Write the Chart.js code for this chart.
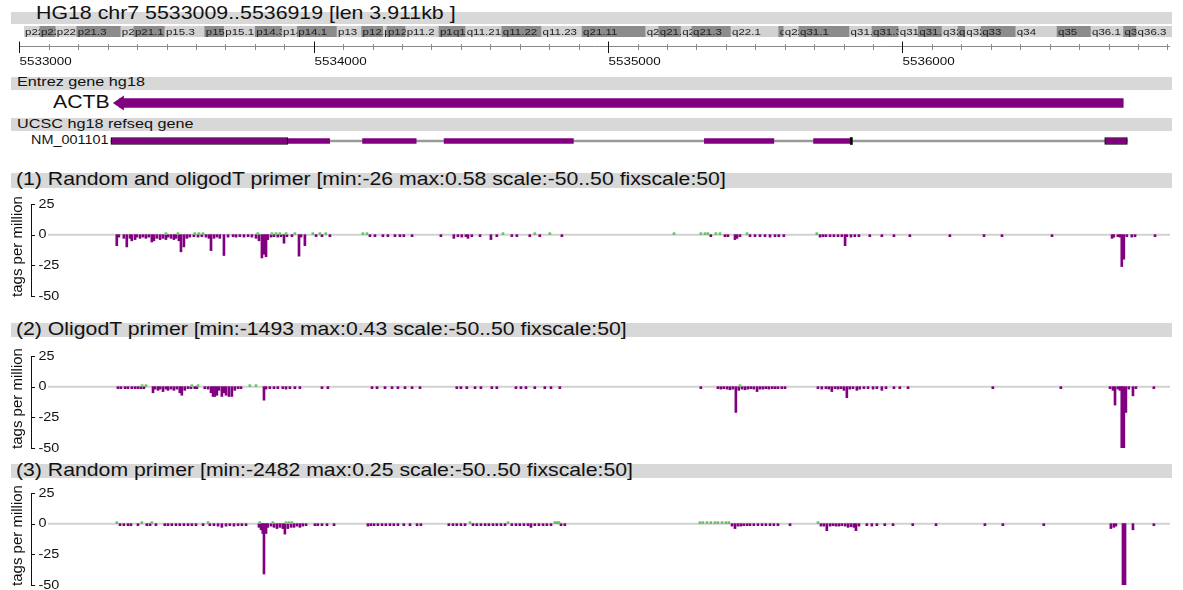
<!DOCTYPE html>
<html>
<head>
<meta charset="utf-8">
<script src="https://cdn.jsdelivr.net/npm/chart.js@4.4.1/dist/chart.umd.min.js"></script>
<style>
  body { margin: 0; background: #fff; }
  #page { position: relative; width: 1183px; height: 590px; overflow: hidden;
          font-family: "Liberation Sans", Arial, sans-serif; color: #111; }
  .band { position: absolute; left: 11px; width: 1161px; background: #d8d8d8; }
  .txt { position: absolute; white-space: nowrap; line-height: 1;
         transform-origin: 0 0; transform: scaleX(1.2); }
  canvas { position: absolute; left: 0; }
</style>
</head>
<body>
<div id="page">
  <div class="band" style="top:12px;height:11.5px"></div>
  <div class="txt" style="left:36px;top:4.5px;font-size:17.8px">HG18 chr7 5533009..5536919 [len 3.911kb ]</div>
  <canvas id="cyto" width="1183" height="11" style="top:26px"></canvas>
  <canvas id="ruler" width="1183" height="30" style="top:38px"></canvas>

  <div class="band" style="top:77px;height:12.5px"></div>
  <div class="txt" style="left:17px;top:75.3px;font-size:13.5px">Entrez gene hg18</div>
  <div class="txt" style="left:53px;top:94px;font-size:17.7px">ACTB</div>
  <canvas id="entrez" width="1183" height="20" style="top:93px"></canvas>

  <div class="band" style="top:118px;height:13px"></div>
  <div class="txt" style="left:17px;top:117px;font-size:13.5px">UCSC hg18 refseq gene</div>
  <div class="txt" style="right:1075px;top:134px;font-size:12px;transform-origin:100% 0">NM_001101</div>
  <canvas id="refseq" width="1183" height="20" style="top:131px"></canvas>

  <div class="band" style="top:172.5px;height:15px"></div>
  <div class="txt" style="left:16px;top:171px;font-size:17.7px">(1) Random and oligodT primer [min:-26 max:0.58 scale:-50..50 fixscale:50]</div>
  <canvas id="track1" width="1183" height="107" style="top:194px"></canvas>

  <div class="band" style="top:323px;height:14px"></div>
  <div class="txt" style="left:16px;top:321px;font-size:17.7px">(2) OligodT primer [min:-1493 max:0.43 scale:-50..50 fixscale:50]</div>
  <canvas id="track2" width="1183" height="107" style="top:346px"></canvas>

  <div class="band" style="top:463.5px;height:14px"></div>
  <div class="txt" style="left:16px;top:461.7px;font-size:17.7px">(3) Random primer [min:-2482 max:0.25 scale:-50..50 fixscale:50]</div>
  <canvas id="track3" width="1183" height="107" style="top:483px"></canvas>
</div>
<script>
// region on chr7 (bp)
const regionStart = 5533009;
const regionEnd = 5536919;

// chr7 ideogram, band edges in Mb
const cytoNames = ["p22.3", "p22.2", "p22.1", "p21.3", "p21.2", "p21.1", "p15.3", "p15.2", "p15.1",
  "p14.3", "p14.2", "p14.1", "p13", "p12.3", "p12.2", "p12.1", "p11.2", "p11.1", "q11.1",
  "q11.21", "q11.22", "q11.23", "q21.11", "q21.12", "q21.13", "q21.2", "q21.3", "q22.1",
  "q22.2", "q22.3", "q31.1", "q31.2", "q31.31", "q31.32", "q31.33", "q32.1", "q32.2",
  "q32.3", "q33", "q34", "q35", "q36.1", "q36.2", "q36.3"];
const cytoEdges = [0, 2.2, 4.4, 7.3, 13.4, 15.2, 19.5, 25.0, 27.7, 32.0, 35.7, 37.8, 43.3, 46.7,
  49.7, 50.2, 52.8, 57.4, 59.2, 61.1, 66.1, 71.6, 77.2, 86.0, 87.8, 90.9, 92.4, 97.8, 104.4,
  105.1, 107.2, 114.2, 117.3, 121.0, 123.7, 127.0, 129.2, 130.2, 132.4, 137.2, 142.9, 147.6,
  152.1, 153.9, 158.8];
const cytoDark = [0, 1, 0, 1, 0, 1, 0, 1, 0, 1, 0, 1, 0, 1, 0, 1, 0, 1, 1,
  0, 1, 0, 1, 0, 1, 0, 1, 0, 1, 0, 1, 0, 1, 0, 1, 0, 1, 0, 1, 0, 1, 0, 1, 0];

// ruler
const rulerFirst = 5533000;
const rulerStep = 100;
const rulerLabelStep = 1000;

// Entrez gene ACTB (minus strand)
const actbStart = 5533311;
const actbEnd = 5536750;

// refseq NM_001101
const nmSpan = [5533311, 5536764];
const nmCds = [[5533912, 5534054], [5534166, 5534348], [5534443, 5534882], [5535327, 5535563], [5535698, 5535823]];
const nmUtr = [[5533311, 5533912], [5536687, 5536764]];
const nmUtrSmall = [[5535823, 5535827]];

// y axis ticks of the signal tracks
const yTicks = [25, 0, -25, -50];

// (1) Random and oligodT primer
const t1Pos = [5533331, 5533338, 5533355, 5533365, 5533376, 5533382, 5533393, 5533399, 5533410, 5533420,
  5533430, 5533440, 5533450, 5533457, 5533467, 5533478, 5533488, 5533498, 5533505, 5533515, 5533525,
  5533532, 5533542, 5533549, 5533559, 5533569, 5533579, 5533593, 5533607, 5533620, 5533634, 5533644,
  5533651, 5533661, 5533671, 5533681, 5533695, 5533709, 5533726, 5533736, 5533749, 5533763, 5533777,
  5533790, 5533804, 5533814, 5533824, 5533831, 5533838, 5533844, 5533855, 5533865, 5533878, 5533889,
  5533899, 5533909, 5533926, 5533950, 5533957, 5533970, 5534008, 5534028, 5534055, 5534191, 5534208,
  5534235, 5534252, 5534276, 5534293, 5534306, 5534334, 5534432, 5534476, 5534490, 5534503, 5534517,
  5534524, 5534537, 5534565, 5534602, 5534622, 5534673, 5534690, 5534734, 5534768, 5534843, 5535349,
  5535397, 5535407, 5535431, 5535438, 5535448, 5535482, 5535499, 5535516, 5535533, 5535550, 5535567,
  5535580, 5535597, 5535720, 5535730, 5535740, 5535754, 5535767, 5535781, 5535794, 5535805, 5535811,
  5535825, 5535838, 5535852, 5535889, 5535930, 5535971, 5536025, 5536161, 5536277, 5536338, 5536508,
  5536712, 5536718, 5536732, 5536739, 5536745, 5536752, 5536762, 5536779, 5536790, 5536858];
const t1Val = [-9, -2, -3, -10, -3, -5, -4, -2, -3, -2,
  -3, -2, -6, -5, -3, -4, -3, -4, -2, -3, -4,
  -3, -5, -14, -10, -3, -2, -1, -2, -1, -2, -3,
  -13, -3, -2, -3, -17, -2, -1, -2, -1, -2, -1,
  -2, -3, -5, -19, -16, -18, -4, -2, -1, -2, -1,
  -7, -1, -1, -17.5, -2, -9, -1, -1, -1, -1, -1,
  -1, -1, -1, -1, -1, -1, -1, -3, -1, -2, -1,
  -3, -1, -1.5, -4, -1, -1, -1, -1, -1, -1.5, -1,
  -1.5, -1.5, -4, -3, -1, -1, -1, -1, -1, -2, -1,
  -1, -1, -2, -1.5, -1, -1.5, -1, -1, -1.5, -9, -1,
  -2, -1.5, -1, -1, -1, -1, -1, -1.5, -1, -1, -1,
  -3, -2, -1, -2, -26, -20, -1, -2, -1.5, -1];
const t1PosPlus = [5533498, 5533539, 5533596, 5533610, 5533624, 5533810, 5533858, 5533872, 5533885,
  5533906, 5533936, 5533997, 5534021, 5534041, 5534167, 5534181, 5534643, 5534751, 5534802, 5535224,
  5535315, 5535329, 5535339, 5535366, 5535380, 5535472, 5535709];
const t1ValPlus = [0.4, 0.5, 0.5, 0.4, 0.5, 0.5, 0.58, 0.4, 0.5,
  0.4, 0.4, 0.4, 0.4, 0.4, 0.4, 0.5, 0.4, 0.4, 0.5, 0.4,
  0.4, 0.5, 0.4, 0.4, 0.4, 0.4, 0.5];

// (2) OligodT primer
const t2Pos = [5533335, 5533345, 5533359, 5533369, 5533382, 5533393, 5533403, 5533413, 5533423, 5533454,
  5533461, 5533471, 5533478, 5533488, 5533498, 5533505, 5533515, 5533525, 5533535, 5533545, 5533552,
  5533562, 5533573, 5533583, 5533596, 5533603, 5533630, 5533641, 5533651, 5533658, 5533664, 5533671,
  5533678, 5533688, 5533695, 5533702, 5533712, 5533722, 5533732, 5533743, 5533753, 5533831, 5533838,
  5533851, 5533865, 5533878, 5533895, 5533906, 5533919, 5533936, 5533953, 5534028, 5534048, 5534198,
  5534215, 5534242, 5534266, 5534286, 5534310, 5534334, 5534361, 5534486, 5534500, 5534520, 5534548,
  5534568, 5534605, 5534622, 5534687, 5534704, 5534721, 5534751, 5534785, 5534806, 5534836, 5535315,
  5535373, 5535383, 5535393, 5535404, 5535414, 5535424, 5535434, 5535444, 5535455, 5535465, 5535475,
  5535485, 5535495, 5535506, 5535516, 5535526, 5535536, 5535546, 5535557, 5535567, 5535577, 5535590,
  5535601, 5535713, 5535726, 5535740, 5535750, 5535760, 5535771, 5535781, 5535791, 5535801, 5535811,
  5535821, 5535832, 5535845, 5535855, 5535869, 5535883, 5535900, 5535913, 5535930, 5535944, 5535971,
  5535991, 5536019, 5536307, 5536538, 5536705, 5536715, 5536722, 5536732, 5536739, 5536745, 5536752,
  5536759, 5536769, 5536783, 5536793, 5536854];
const t2Val = [-1.5, -1, -1.5, -1, -1, -1.5, -1, -1, -1.5, -5,
  -2, -3, -2, -4, -2, -3, -2, -3, -2, -5, -7,
  -3, -1, -1.5, -1, -1, -1, -2, -5, -8, -8, -7,
  -3, -8, -5, -7, -8, -8, -3, -1, -1, -11, -2,
  -1.5, -1, -1, -1.5, -2, -1.5, -1, -1.5, -1, -1, -1,
  -1, -1, -1, -1, -1, -1, -1, -1, -1.5, -1, -1,
  -1, -1, -1, -1, -1, -1, -1, -1, -1, -1, -1,
  -1.5, -2, -1.5, -2, -2.5, -2, -21, -3, -2, -2.5, -2,
  -1.5, -2, -4, -2, -2, -1.5, -2, -1.5, -1, -1.5, -1,
  -1, -1.5, -2, -1.5, -2, -4, -1.5, -2, -1.5, -3, -9,
  -2, -1.5, -3, -2, -1.5, -1, -2, -1, -3, -1, -1.5,
  -1, -1, -1, -1, -1.5, -3, -15, -2, -3, -1493, -180,
  -21, -2, -7.5, -1, -1];
const t2PosPlus = [5533417, 5533430, 5533586, 5533607, 5533783, 5533804, 5535448];
const t2ValPlus = [0.4, 0.43, 0.3, 0.3, 0.3, 0.3, 0.4];

// (3) Random primer
const t3Pos = [5533342, 5533355, 5533369, 5533379, 5533403, 5533433, 5533444, 5533464, 5533494, 5533505,
  5533518, 5533532, 5533545, 5533559, 5533573, 5533586, 5533600, 5533624, 5533647, 5533661, 5533675,
  5533688, 5533702, 5533715, 5533729, 5533743, 5533756, 5533770, 5533814, 5533821, 5533827, 5533831,
  5533838, 5533844, 5533855, 5533865, 5533875, 5533885, 5533895, 5533902, 5533912, 5533923, 5533933,
  5533943, 5533953, 5533963, 5533974, 5534004, 5534014, 5534028, 5534045, 5534069, 5534184, 5534194,
  5534205, 5534218, 5534232, 5534245, 5534259, 5534272, 5534286, 5534306, 5534327, 5534351, 5534364,
  5534459, 5534473, 5534486, 5534500, 5534514, 5534541, 5534554, 5534568, 5534582, 5534595, 5534609,
  5534622, 5534636, 5534650, 5534673, 5534687, 5534700, 5534714, 5534728, 5534738, 5534751, 5534765,
  5534779, 5534792, 5534806, 5534840, 5534853, 5535421, 5535431, 5535441, 5535451, 5535461, 5535472,
  5535482, 5535495, 5535509, 5535523, 5535536, 5535550, 5535563, 5535577, 5535618, 5535723, 5535733,
  5535743, 5535754, 5535764, 5535774, 5535784, 5535794, 5535805, 5535815, 5535825, 5535835, 5535842,
  5535852, 5535879, 5535896, 5535913, 5535940, 5535968, 5536035, 5536114, 5536280, 5536341, 5536480,
  5536708, 5536718, 5536725, 5536749, 5536756, 5536783, 5536854];
const t3Val = [-1, -1, -1, -1, -1, -1, -1, -1, -1, -1,
  -1, -1, -1, -1, -1, -1, -1, -1, -1, -1, -2,
  -3, -2, -1, -2, -1, -1, -1, -3, -5, -8, -41,
  -8, -3, -2, -3, -4, -3, -4, -8.5, -4, -3, -3,
  -2, -3, -2, -1, -1, -1, -1, -1, -1, -2, -1,
  -1, -1, -1, -1, -1, -1, -1, -1, -1, -1, -1,
  -1, -1.5, -1, -1.5, -1, -1, -1.5, -1, -1, -1, -1,
  -1.5, -1, -1, -1, -1, -1.5, -1, -1.5, -3, -1, -1.5,
  -1, -1, -1, -1, -1, -2, -4, -2, -2, -1.5, -1,
  -1.5, -1, -1.5, -1, -1, -1, -1, -1, -1, -2, -2,
  -5.7, -2, -1.5, -2, -2, -1.5, -2, -3, -2.5, -3, -5.7,
  -2, -1, -2, -1, -1, -1, -1, -1, -1, -1, -1,
  -4, -3, -2, -2482, -300, -5, -1];
const t3PosPlus = [5533331, 5533416, 5533450, 5533641, 5533817, 5533861, 5533906, 5533916, 5533926,
  5534531, 5534660, 5534819, 5534826, 5534833, 5535312, 5535322, 5535336, 5535349, 5535363, 5535373,
  5535387, 5535400, 5535410, 5535713];
const t3ValPlus = [0.25, 0.25, 0.25, 0.25, 0.25, 0.25, 0.25, 0.25, 0.25,
  0.25, 0.25, 0.25, 0.25, 0.25, 0.25, 0.25, 0.25, 0.25, 0.25, 0.25,
  0.25, 0.25, 0.25, 0.25];

const FONT = '"Liberation Sans", Arial, sans-serif';
const STRETCH = 1.2;

function stretchText(ctx, text, x, y) {
  ctx.save();
  ctx.translate(x, y);
  ctx.scale(STRETCH, 1);
  ctx.fillText(text, 0, 0);
  ctx.restore();
}

function genomeScale() {
  return { type: "linear", min: regionStart, max: regionEnd, display: false, offset: false };
}

const baseOptions = {
  responsive: false,
  animation: false,
  events: [],
  plugins: { legend: { display: false }, tooltip: { enabled: false } },
};

// ideogram
const cytoLabels = {
  id: "cytoLabels",
  afterDatasetsDraw(chart) {
    const ctx = chart.ctx;
    const meta = chart.getDatasetMeta(0);
    ctx.save();
    ctx.font = "9.6px " + FONT;
    ctx.textBaseline = "middle";
    ctx.fillStyle = "#222";
    meta.data.forEach((bar, i) => {
      const p = bar.getProps(["x", "base", "y", "height"], true);
      const left = Math.min(p.x, p.base);
      const right = Math.max(p.x, p.base);
      ctx.save();
      ctx.beginPath();
      ctx.rect(left, p.y - p.height / 2, right - left, p.height);
      ctx.clip();
      stretchText(ctx, cytoNames[i], left + 1, p.y + 0.5);
      ctx.restore();
    });
    ctx.restore();
  },
};

new Chart(document.getElementById("cyto"), {
  type: "bar",
  data: {
    labels: ["chr7"],
    datasets: [{
      data: cytoNames.map((n, i) => ({ x: [cytoEdges[i], cytoEdges[i + 1]], y: "chr7" })),
      backgroundColor: cytoDark.map((d) => (d ? "#8c8c8c" : "#d2d2d2")),
      barThickness: 11,
      grouped: false,
    }],
  },
  options: {
    ...baseOptions,
    indexAxis: "y",
    layout: { padding: { left: 24, right: 11, top: 0, bottom: 0 } },
    scales: {
      x: { type: "linear", min: 0, max: cytoEdges[cytoEdges.length - 1], display: false, offset: false },
      y: { type: "category", display: false },
    },
  },
  plugins: [cytoLabels],
});

// ruler
const rulerDraw = {
  id: "rulerDraw",
  afterDraw(chart) {
    const { ctx, scales: { x } } = chart;
    const lineY = 8.5;
    ctx.save();
    ctx.lineWidth = 1;
    ctx.strokeStyle = "#8a8a8a";
    ctx.beginPath();
    ctx.moveTo(x.getPixelForValue(rulerFirst), lineY);
    ctx.lineTo(x.getPixelForValue(regionEnd) - 3, lineY);
    ctx.stroke();
    ctx.font = "11.2px " + FONT;
    ctx.fillStyle = "#111";
    ctx.textBaseline = "alphabetic";
    for (let p = rulerFirst; p <= regionEnd; p += rulerStep) {
      const px = Math.round(x.getPixelForValue(p)) + 0.5;
      const major = p % rulerLabelStep === 0;
      ctx.strokeStyle = major ? "#111" : "#8a8a8a";
      ctx.beginPath();
      ctx.moveTo(px, major ? lineY - 5 : lineY - 2.5);
      ctx.lineTo(px, major ? lineY + 6.5 : lineY + 3.5);
      ctx.stroke();
      if (major) stretchText(ctx, String(p), px, 27);
    }
    ctx.restore();
  },
};

new Chart(document.getElementById("ruler"), {
  type: "bar",
  data: { datasets: [] },
  options: {
    ...baseOptions,
    layout: { padding: { left: 22, right: 10, top: 0, bottom: 0 } },
    scales: { x: genomeScale(), y: { type: "linear", display: false } },
  },
  plugins: [rulerDraw],
});

// Entrez gene
const arrowHead = {
  id: "arrowHead",
  afterDatasetsDraw(chart) {
    const { ctx, chartArea, scales: { x } } = chart;
    const tip = x.getPixelForValue(actbStart) + 2;
    const cy = (chartArea.top + chartArea.bottom) / 2;
    ctx.save();
    ctx.fillStyle = "#800080";
    ctx.beginPath();
    ctx.moveTo(tip, cy);
    ctx.lineTo(tip + 11, cy - 7.5);
    ctx.lineTo(tip + 11, cy + 7.5);
    ctx.closePath();
    ctx.fill();
    ctx.restore();
  },
};

new Chart(document.getElementById("entrez"), {
  type: "bar",
  data: {
    labels: ["ACTB"],
    datasets: [{
      data: [{ x: [actbStart + 30, actbEnd], y: "ACTB" }],
      backgroundColor: "#800080",
      barThickness: 9,
    }],
  },
  options: {
    ...baseOptions,
    indexAxis: "y",
    layout: { padding: { left: 22, right: 10, top: 0, bottom: 0 } },
    scales: { x: genomeScale(), y: { type: "category", display: false } },
  },
  plugins: [arrowHead],
});

// refseq transcript (lower order is drawn on top)
new Chart(document.getElementById("refseq"), {
  type: "bar",
  data: {
    labels: ["NM_001101"],
    datasets: [
      {
        data: [{ x: nmSpan, y: "NM_001101" }],
        backgroundColor: "#9a9a9a",
        barThickness: 2,
        grouped: false,
        order: 4,
      },
      {
        data: nmCds.map((e) => ({ x: e, y: "NM_001101" })),
        backgroundColor: "#800080",
        barThickness: 5,
        grouped: false,
        order: 3,
      },
      {
        data: nmUtr.map((e) => ({ x: e, y: "NM_001101" })),
        backgroundColor: "#800080",
        borderColor: "#000",
        borderWidth: 1,
        borderSkipped: false,
        barThickness: 7,
        grouped: false,
        order: 2,
      },
      {
        data: nmUtrSmall.map((e) => ({ x: e, y: "NM_001101" })),
        backgroundColor: "#000",
        barThickness: 7,
        minBarLength: 2,
        grouped: false,
        order: 1,
      },
    ],
  },
  options: {
    ...baseOptions,
    indexAxis: "y",
    layout: { padding: { left: 22, right: 10, top: 0, bottom: 0 } },
    scales: { x: genomeScale(), y: { type: "category", display: false } },
  },
});

// signal tracks
const trackAxis = {
  id: "trackAxis",
  beforeDatasetsDraw(chart) {
    const { ctx, chartArea, scales: { y } } = chart;
    const y0 = y.getPixelForValue(0);
    ctx.save();
    ctx.strokeStyle = "#d2d2d2";
    ctx.lineWidth = 2;
    ctx.beginPath();
    ctx.moveTo(48, y0);
    ctx.lineTo(chartArea.right - 3, y0);
    ctx.stroke();
    ctx.restore();
  },
  afterDatasetsDraw(chart) {
    const { ctx, scales: { y } } = chart;
    const top = Math.round(y.getPixelForValue(yTicks[0])) + 0.5;
    const bottom = Math.round(y.getPixelForValue(yTicks[yTicks.length - 1])) + 0.5;
    ctx.save();
    ctx.strokeStyle = "#111";
    ctx.lineWidth = 1;
    ctx.beginPath();
    ctx.moveTo(31.5, top);
    ctx.lineTo(31.5, bottom);
    yTicks.forEach((v) => {
      const py = Math.round(y.getPixelForValue(v)) + 0.5;
      ctx.moveTo(31, py);
      ctx.lineTo(35, py);
    });
    ctx.stroke();
    ctx.fillStyle = "#111";
    ctx.font = "12px " + FONT;
    ctx.textBaseline = "middle";
    yTicks.forEach((v) => stretchText(ctx, String(v), 38.5, y.getPixelForValue(v) + 0.5));
    ctx.translate(17.5, (top + bottom) / 2 - 4);
    ctx.rotate(-Math.PI / 2);
    ctx.textAlign = "center";
    ctx.font = "15px " + FONT;
    ctx.fillText("tags per million", 0, 0);
    ctx.restore();
  },
};

function trackChart(id, pos, val, posPlus, valPlus) {
  return new Chart(document.getElementById(id), {
    type: "bar",
    data: {
      datasets: [
        {
          data: posPlus.map((p, i) => ({ x: p, y: valPlus[i] })),
          backgroundColor: "#6abf69",
          barThickness: 2,
          minBarLength: 2,
          grouped: false,
          clip: 0,
        },
        {
          data: pos.map((p, i) => ({ x: p, y: val[i] })),
          backgroundColor: "#800080",
          barThickness: 2,
          minBarLength: 2,
          grouped: false,
          clip: 0,
        },
      ],
    },
    options: {
      ...baseOptions,
      layout: { padding: { left: 22, right: 10, top: 10, bottom: 5 } },
      scales: {
        x: genomeScale(),
        y: { type: "linear", min: yTicks[yTicks.length - 1], max: yTicks[0], display: false },
      },
    },
    plugins: [trackAxis],
  });
}

trackChart("track1", t1Pos, t1Val, t1PosPlus, t1ValPlus);
trackChart("track2", t2Pos, t2Val, t2PosPlus, t2ValPlus);
trackChart("track3", t3Pos, t3Val, t3PosPlus, t3ValPlus);
</script>
</body>
</html>
